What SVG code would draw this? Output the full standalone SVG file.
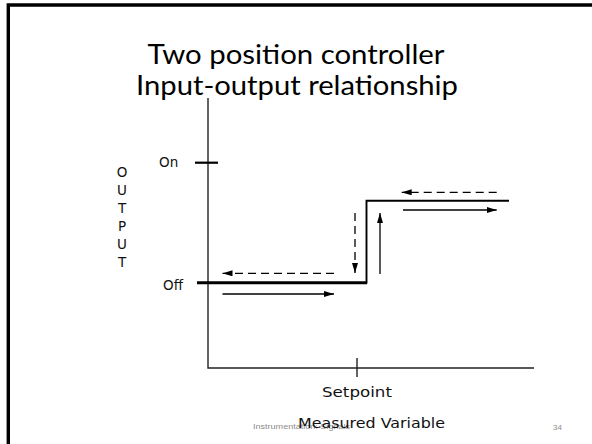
<svg xmlns="http://www.w3.org/2000/svg" width="592" height="444" viewBox="0 0 592 444">
  <defs>
    <marker id="head" viewBox="0 0 10 6" refX="10" refY="3" markerWidth="10" markerHeight="6" markerUnits="userSpaceOnUse" orient="auto">
      <path d="M0,0 L10,3 L0,6 Z" fill="#000"/>
    </marker>
    <style>
      .title { font-family: Lato, "Open Sans", "Liberation Sans", sans-serif; font-size: 27px; fill: #000; text-anchor: middle; }
      .lbl { font-family: "DejaVu Sans", "Liberation Sans", sans-serif; font-size: 13.5px; fill: #111; }
      .axis { stroke: #222; stroke-width: 1.4; fill: none; }
      .curve { stroke: #000; fill: none; }
      .arr { stroke: #000; stroke-width: 1.3; fill: none; marker-end: url(#head); }
      .dash { stroke-dasharray: 8 5; }
      .foot { font-family: "Liberation Sans", Arial, sans-serif; font-size: 8px; fill: #8c8c8c; }
    </style>
  </defs>

  <rect width="592" height="444" fill="#fff"/>
  <!-- slide frame -->
  <path d="M8.3,444 V5 H592" fill="none" stroke="#000" stroke-width="3.4"/>

  <!-- title -->
  <text class="title" x="296" y="64" textLength="297" lengthAdjust="spacingAndGlyphs">Two position controller</text>
  <text class="title" x="297" y="95" textLength="322" lengthAdjust="spacingAndGlyphs">Input-output relationship</text>

  <!-- axes -->
  <g id="axes">
    <path class="axis" d="M208,98 V368 H534"/>
    <line x1="195" y1="162.7" x2="218" y2="162.7" stroke="#000" stroke-width="2.2"/>
    <line x1="357" y1="358" x2="357" y2="377" stroke="#222" stroke-width="1.4"/>
  </g>

  <!-- axis labels -->
  <g id="labels">
    <text class="lbl" x="159" y="167">On</text>
    <text class="lbl" x="163" y="290">Off</text>
    <g class="lbl" text-anchor="middle" font-size="14">
      <text x="122" y="177">O</text>
      <text x="122" y="195">U</text>
      <text x="122" y="213">T</text>
      <text x="122" y="231">P</text>
      <text x="122" y="249">U</text>
      <text x="122" y="267">T</text>
    </g>
    <text class="lbl" x="322" y="397" font-size="15" textLength="70" lengthAdjust="spacingAndGlyphs">Setpoint</text>
  </g>

  <!-- footer -->
  <text class="foot" x="253" y="429" textLength="97" lengthAdjust="spacingAndGlyphs">Instrumentation: Signals</text>
  <text class="foot" x="553" y="430">34</text>
  <text class="lbl" x="298" y="428" font-size="16" textLength="147" lengthAdjust="spacingAndGlyphs">Measured Variable</text>

  <!-- controller output curve -->
  <g id="curve">
    <path class="curve" stroke-width="3" d="M197,282.7 H367"/>
    <path class="curve" stroke-width="1.9" d="M366.5,283.5 V200.7 H509"/>
  </g>

  <!-- direction arrows -->
  <g id="connectors">
    <path class="arr dash" d="M334,273.3 H222.5"/>
    <path class="arr" d="M222.5,294 H334"/>
    <path class="arr dash" d="M355,213 V273"/>
    <path class="arr" d="M380,274 V213"/>
    <path class="arr dash" d="M496.7,192.3 H401.7"/>
    <path class="arr" d="M403,210 H496.7"/>
  </g>
</svg>
